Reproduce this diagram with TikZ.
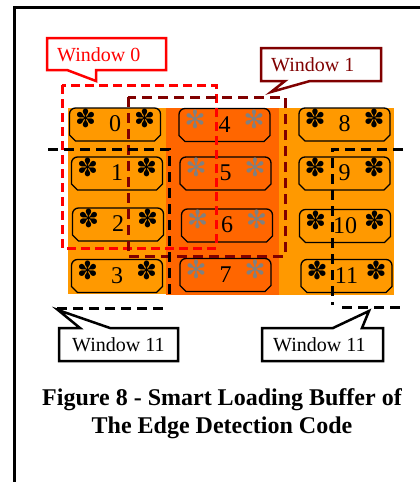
\documentclass[tikz,border=0pt]{standalone}
\usepackage{fontspec}
\setmainfont{Liberation Serif}
\newfontfamily\dingfont{DejaVu Sans}

\definecolor{lightorange}{RGB}{255,153,0}
\definecolor{deeporange}{RGB}{255,102,0}
\definecolor{maroon}{RGB}{128,0,0}
\definecolor{stargray}{RGB}{128,128,128}

% black and grey asterisks flanking each buffer number
\newcommand\blkast{\raisebox{4pt}{\dingfont\fontsize{25}{25}\selectfont ✽}}
\newcommand\gryast{\raisebox{4pt}{\color{stargray}\dingfont\fontsize{25}{25}\selectfont ✻}}

% one buffer cell: name, x, y, number, fill colour, asterisk
\newcommand\cellbox[6]{%
  \filldraw[cellline, fill=#5] (#2-45.5,#3+10.5) [rounded corners=6pt]
    -- (#2-45.5,#3-16.5) -- (#2+45.5,#3-16.5) [sharp corners]
    -- (#2+45.5,#3+10.5) -- (#2+39.5,#3+16.5) -- (#2-39.5,#3+16.5) -- cycle;
  \node[cell] (#1) at (#2,#3) {\makebox[80pt]{#6\hfill#4\hfill#6}};}

\begin{document}
\begin{tikzpicture}[x=1pt,y=-1pt,
  cellline/.style={draw=black, line width=1.3pt},
  cell/.style={minimum width=91pt, minimum height=33pt, inner sep=0pt,
    text height=14pt, text depth=0pt, font=\rmfamily\fontsize{24}{24}\selectfont},
  win0/.style={draw=red, line width=3pt, dash pattern=on 9pt off 5pt},
  win1/.style={draw=maroon, line width=3pt, dash pattern=on 10pt off 6pt},
  win11/.style={draw=black, line width=3pt, dash pattern=on 10pt off 6pt},
  callout/.style={line width=2.5pt, fill=white, line join=miter},
  calltext/.style={anchor=base west, inner sep=0pt, font=\rmfamily\fontsize{20}{20}\selectfont},
  caption/.style={anchor=base, inner sep=0pt, font=\rmfamily\bfseries\fontsize{24}{24}\selectfont}]
\useasboundingbox (0,0) rectangle (420,482);
\fill[white] (0,0) rectangle (420,482);

% page frame
\draw[line width=3pt] (420,7) -- (14,7) -- (14,482);

% buffer columns
\fill[lightorange] (68,108) rectangle (166,294);
\fill[deeporange] (166,108) rectangle (279,295);
\fill[lightorange] (279,108) rectangle (394,295);

% buffer cells
\cellbox{c0}{115}{124.5}{0}{lightorange}{\blkast}
\cellbox{c1}{117}{173.5}{1}{lightorange}{\blkast}
\cellbox{c2}{118}{224.5}{2}{lightorange}{\blkast}
\cellbox{c3}{117}{276}{3}{lightorange}{\blkast}
\cellbox{c4}{224.5}{125}{4}{deeporange}{\gryast}
\cellbox{c5}{225.5}{173.5}{5}{deeporange}{\gryast}
\cellbox{c6}{227}{225.5}{6}{deeporange}{\gryast}
\cellbox{c7}{225.5}{275}{7}{deeporange}{\gryast}
\cellbox{c8}{344.5}{124.5}{8}{lightorange}{\blkast}
\cellbox{c9}{344.5}{173.5}{9}{lightorange}{\blkast}
\cellbox{c10}{345}{226}{10}{lightorange}{\blkast}
\cellbox{c11}{346.5}{276}{11}{lightorange}{\blkast}

% sliding windows
\draw[win0] (62,85) rectangle (216,248);
\draw[win1] (128,97) rectangle (285,256);
\draw[win11] (48,149) -- (169,149) -- (169,300);
\draw[win11] (57,308) -- (166,308);
\draw[win11] (403,149) -- (332,149) -- (332,305);
\draw[win11] (342,307) -- (402,307);

% callouts
\coordinate (t0) at (96,81);
\coordinate (t1) at (271,92);
\coordinate (t11a) at (58,310);
\coordinate (t11b) at (369,311);

\draw[callout, draw=red] (47,38) -- (166,38) -- (166,70) -- (96,70) -- (t0) -- (67,70) -- (47,70) -- cycle;
\node[calltext, text=red] (w0) at (57,61.5) {Window 0};

\draw[callout, draw=maroon] (261,48) -- (381,48) -- (381,81) -- (310,81) -- (t1) -- (285,81) -- (261,81) -- cycle;
\node[calltext, text=maroon] (w1) at (271,71.5) {Window 1};

\draw[callout, draw=black] (59,328) -- (80,328) -- (t11a) -- (110,328) -- (178,328) -- (178,361) -- (59,361) -- cycle;
\node[calltext] (w11a) at (72,351.5) {Window 11};

\draw[callout, draw=black] (262,328) -- (333,328) -- (t11b) -- (362,328) -- (383,328) -- (383,361) -- (262,361) -- cycle;
\node[calltext] (w11b) at (273,351.5) {Window 11};

% caption
\node[caption] (cap1) at (222,405) {Figure 8 - Smart Loading Buffer of};
\node[caption] (cap2) at (222,433) {The Edge Detection Code};
\end{tikzpicture}
\end{document}
